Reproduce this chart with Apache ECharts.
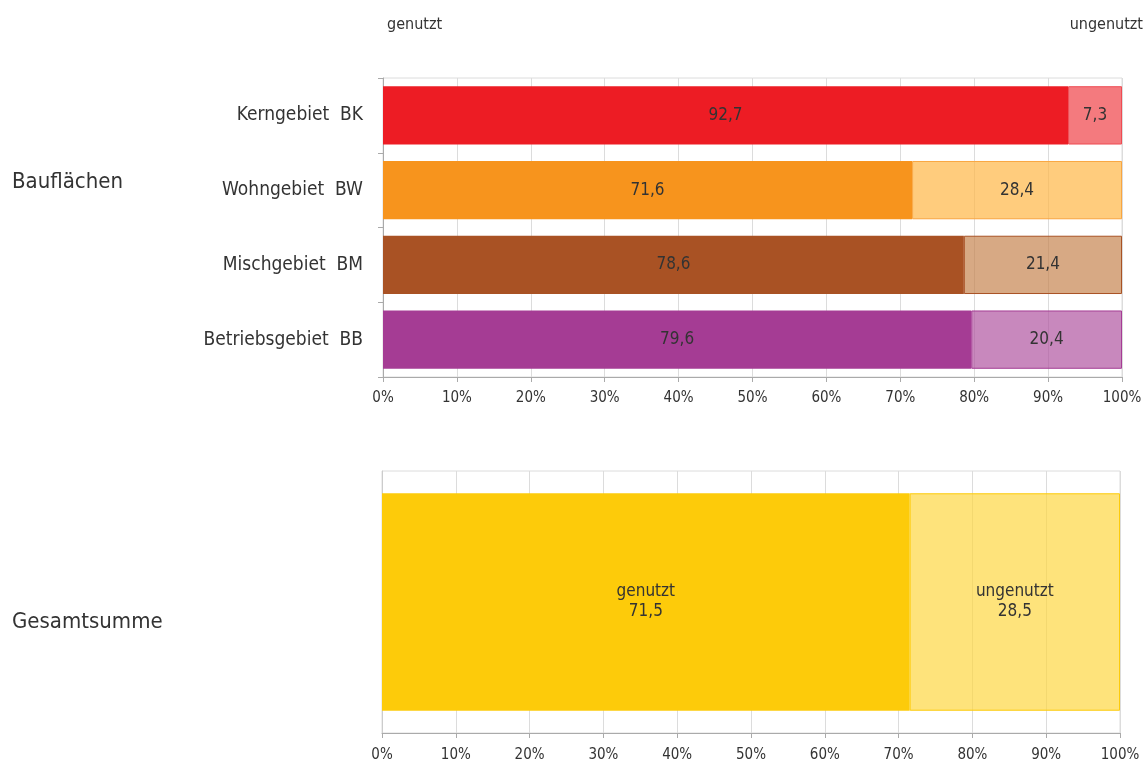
<!DOCTYPE html>
<html>
<head>
<meta charset="utf-8">
<script src="https://cdn.jsdelivr.net/npm/echarts@6/dist/echarts.min.js"></script>
<style>html,body{margin:0;padding:0;background:#fff}#c{width:1144px;height:762px}</style>
</head>
<body>
<div id="c"></div>
<script>
const categories = ['Kerngebiet  BK', 'Wohngebiet  BW', 'Mischgebiet  BM', 'Betriebsgebiet  BB'];
const genutzt = [92.7, 71.6, 78.6, 79.6];
const ungenutzt = [7.3, 28.4, 21.4, 20.4];
const totalCategory = ['Gesamtsumme'];
const totalGenutzt = [71.5];
const totalUngenutzt = [28.5];
const xTickMin = 0, xTickMax = 100, xTickStep = 10;
const seriesNames = ['genutzt', 'ungenutzt'];
const groupNames = ['Bauflächen', 'Gesamtsumme'];

const usedColors = ['#ED1C24', '#F7941D', '#A95224', '#A53C94'];
const unusedColors = ['rgba(240,70,76,0.72)', 'rgba(255,185,75,0.72)', 'rgba(196,128,74,0.68)', 'rgba(174,80,158,0.68)'];
const unusedBorders = ['#EF4B52', '#F9A640', '#A95224', '#A53C94'];
const totalUsedColor = '#FDCB0A';
const totalUnusedColor = 'rgba(254,214,60,0.68)';
const totalUnusedBorder = '#FDCB0A';

const FONT = '"Liberation Sans Narrow", "DejaVu Sans Condensed", "Roboto", sans-serif';
const fmt = v => String(v).replace('.', ',');

const chart = echarts.init(document.getElementById('c'));

const xAxisBase = {
  type: 'value', min: xTickMin, max: xTickMax, interval: xTickStep,
  axisLabel: { formatter: '{value}%', color: '#333', fontFamily: FONT, fontSize: 15, margin: 14 },
  axisLine: { show: true, lineStyle: { color: '#aaa' } },
  axisTick: { show: true, length: 5, lineStyle: { color: '#aaa' } },
  splitLine: { show: true, lineStyle: { color: '#dcdcdc' } }
};

chart.setOption({
  animation: false,
  textStyle: { fontFamily: FONT },
  grid: [
    { left: 383, right: 22, top: 78, height: 299, show: true, borderColor: '#dcdcdc', borderWidth: 1, outerBoundsMode: 'none', containLabel: false },
    { left: 382, right: 24, top: 471, height: 262, show: true, borderColor: '#dcdcdc', borderWidth: 1, outerBoundsMode: 'none', containLabel: false }
  ],
  xAxis: [
    Object.assign({ gridIndex: 0 }, xAxisBase),
    Object.assign({ gridIndex: 1 }, xAxisBase, { axisLabel: Object.assign({}, xAxisBase.axisLabel, { margin: 15 }) })
  ],
  yAxis: [
    {
      gridIndex: 0, type: 'category', data: categories, inverse: true,
      axisLine: { show: true, lineStyle: { color: '#aaa' } },
      axisTick: { show: true, length: 5, lineStyle: { color: '#aaa' } },
      axisLabel: { color: '#333', fontFamily: FONT, fontSize: 19, margin: 20 },
      splitLine: { show: false }
    },
    {
      gridIndex: 1, type: 'category', data: totalCategory,
      axisLine: { show: true, lineStyle: { color: '#ccc' } },
      axisTick: { show: false },
      axisLabel: { show: false },
      splitLine: { show: false }
    }
  ],
  graphic: [
    { type: 'text', left: 387, top: 17, style: { text: seriesNames[0], fontFamily: FONT, fontSize: 16, fill: '#333' } },
    { type: 'text', right: 1, top: 17, style: { text: seriesNames[1], fontFamily: FONT, fontSize: 16, fill: '#333' } },
    { type: 'text', left: 12, top: 171, style: { text: groupNames[0], fontFamily: FONT, fontSize: 22, fill: '#333' } },
    { type: 'text', left: 12, top: 611, style: { text: groupNames[1], fontFamily: FONT, fontSize: 22, fill: '#333' } }
  ],
  series: [
    {
      name: seriesNames[0], type: 'bar', stack: 'a', xAxisIndex: 0, yAxisIndex: 0, barWidth: '78%',
      data: genutzt.map((v, i) => ({ value: v, itemStyle: { color: usedColors[i] } })),
      label: { show: true, position: 'inside', color: '#333', fontFamily: FONT, fontSize: 17, formatter: p => fmt(p.value) }
    },
    {
      name: seriesNames[1], type: 'bar', stack: 'a', xAxisIndex: 0, yAxisIndex: 0, barWidth: '78%',
      data: ungenutzt.map((v, i) => ({ value: v, itemStyle: { color: unusedColors[i], borderColor: unusedBorders[i], borderWidth: 1 } })),
      label: { show: true, position: 'inside', color: '#333', fontFamily: FONT, fontSize: 17, formatter: p => fmt(p.value) }
    },
    {
      name: seriesNames[0], type: 'bar', stack: 'b', xAxisIndex: 1, yAxisIndex: 1, barWidth: '83%',
      data: totalGenutzt.map(v => ({ value: v, itemStyle: { color: totalUsedColor } })),
      label: { show: true, position: 'inside', color: '#333', fontFamily: FONT, fontSize: 17, lineHeight: 20, formatter: p => seriesNames[0] + '\n' + fmt(p.value) }
    },
    {
      name: seriesNames[1], type: 'bar', stack: 'b', xAxisIndex: 1, yAxisIndex: 1, barWidth: '83%',
      data: totalUngenutzt.map(v => ({ value: v, itemStyle: { color: totalUnusedColor, borderColor: totalUnusedBorder, borderWidth: 1 } })),
      label: { show: true, position: 'inside', color: '#333', fontFamily: FONT, fontSize: 17, lineHeight: 20, formatter: p => seriesNames[1] + '\n' + fmt(p.value) }
    }
  ]
});
</script>
</body>
</html>
